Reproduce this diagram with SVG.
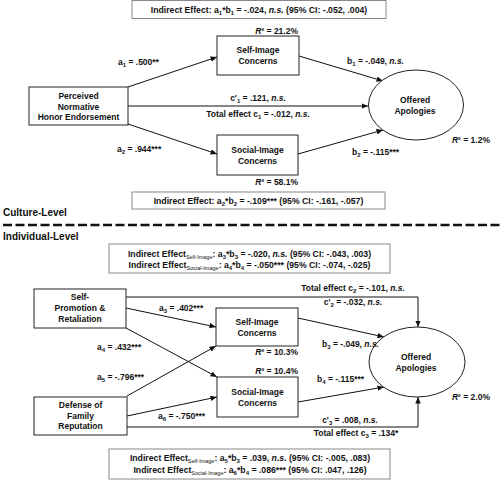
<svg xmlns="http://www.w3.org/2000/svg" width="500" height="481" viewBox="0 0 500 481">
<style>
text{font-family:"Liberation Sans",Arial,sans-serif;font-weight:bold;font-size:8.5px;fill:#111}
.c{text-anchor:middle}
.e{text-anchor:end}
.h{font-size:10px}
.ie{font-size:8.7px}
.sub{font-size:6px}
.ss{font-size:5.5px;font-weight:normal}
.i{font-style:italic}
.box{fill:#fff;stroke:#222;stroke-width:1}
.ibox{fill:#fff;stroke:#888;stroke-width:1}
.ln{fill:none;stroke:#111;stroke-width:1}
</style>
<defs>
<marker id="ah" markerUnits="userSpaceOnUse" markerWidth="7" markerHeight="6" refX="6.5" refY="2.75" orient="auto">
<path d="M0,0 L6.5,2.75 L0,5.5 z" fill="#111"/>
</marker>
</defs>

<!-- connectors -->
<g id="connectors">
<line class="ln" x1="128" y1="87" x2="217" y2="57" marker-end="url(#ah)"/>
<line class="ln" x1="128" y1="106" x2="368" y2="106" marker-end="url(#ah)"/>
<line class="ln" x1="299" y1="56" x2="383" y2="81" marker-end="url(#ah)"/>
<line class="ln" x1="128" y1="124" x2="217" y2="154" marker-end="url(#ah)"/>
<line class="ln" x1="298" y1="154" x2="383" y2="130" marker-end="url(#ah)"/>
<line x1="3" y1="225" x2="500" y2="225" stroke="#111" stroke-width="2.5" stroke-dasharray="9 3.5"/>
<polyline class="ln" points="126,297 418,297 418,327" marker-end="url(#ah)"/>
<polyline class="ln" points="127,427 418,427 418,397" marker-end="url(#ah)"/>
<line class="ln" x1="126" y1="308" x2="216" y2="327" marker-end="url(#ah)"/>
<line class="ln" x1="126" y1="328" x2="217" y2="377" marker-end="url(#ah)"/>
<line class="ln" x1="127" y1="396" x2="216" y2="346" marker-end="url(#ah)"/>
<line class="ln" x1="127" y1="416" x2="217" y2="397" marker-end="url(#ah)"/>
<line class="ln" x1="298" y1="318" x2="384" y2="337" marker-end="url(#ah)"/>
<line class="ln" x1="298" y1="402" x2="384" y2="387" marker-end="url(#ah)"/>
</g>

<!-- culture level -->
<g id="ie1">
<rect class="ibox" x="132" y="0.5" width="254" height="18"/>
<text class="c ie" x="259" y="12.5">Indirect Effect: a<tspan class="sub" dy="2">1</tspan><tspan dy="-2">*b</tspan><tspan class="sub" dy="2">1</tspan><tspan dy="-2"> = -.024, </tspan><tspan class="i">n.s.</tspan> (95% CI:  -.052, .004)</text>
</g>
<g id="honor">
<rect class="box" x="29" y="87" width="99" height="38"/>
<text class="c" x="78.5" y="99">Perceived</text>
<text class="c" x="78.5" y="109.5">Normative</text>
<text class="c" x="78.5" y="120">Honor Endorsement</text>
</g>
<g id="self1">
<rect class="box" x="217" y="36" width="82" height="39"/>
<text class="c" x="258" y="53">Self-Image</text>
<text class="c" x="258" y="64">Concerns</text>
<text class="e" x="298" y="34"><tspan class="i">R</tspan>² = 21.2%</text>
</g>
<g id="social1">
<rect class="box" x="217" y="135" width="81" height="40"/>
<text class="c" x="257.5" y="153">Social-Image</text>
<text class="c" x="257.5" y="164">Concerns</text>
<text class="e" x="298" y="185"><tspan class="i">R</tspan>² = 58.1%</text>
</g>
<g id="apol1">
<ellipse class="box" cx="416" cy="105" rx="47.5" ry="35"/>
<text class="c" x="415" y="103">Offered</text>
<text class="c" x="415" y="113.5">Apologies</text>
<text class="e" x="490" y="143"><tspan class="i">R</tspan>² = 1.2%</text>
</g>
<g id="labels1">
<text x="118" y="65">a<tspan class="sub" dy="2">1</tspan><tspan dy="-2"> = .500**</tspan></text>
<text class="c" x="258" y="101">c'<tspan class="sub" dy="2">1</tspan><tspan dy="-2"> = .121, </tspan><tspan class="i">n.s.</tspan></text>
<text class="c" x="258" y="117">Total effect c<tspan class="sub" dy="2">1</tspan><tspan dy="-2"> = -.012, </tspan><tspan class="i">n.s.</tspan></text>
<text x="347" y="64">b<tspan class="sub" dy="2">1</tspan><tspan dy="-2"> = -.049, </tspan><tspan class="i">n.s.</tspan></text>
<text x="117" y="152">a<tspan class="sub" dy="2">2</tspan><tspan dy="-2"> = .944***</tspan></text>
<text x="352" y="155">b<tspan class="sub" dy="2">2</tspan><tspan dy="-2"> = -.115***</tspan></text>
</g>
<g id="ie2">
<rect class="ibox" x="132" y="192" width="253" height="17"/>
<text class="c ie" x="258.5" y="203.5">Indirect Effect: a<tspan class="sub" dy="2">2</tspan><tspan dy="-2">*b</tspan><tspan class="sub" dy="2">2</tspan><tspan dy="-2"> = -.109*** (95% CI:  -.161, -.057)</tspan></text>
</g>
<text class="h" x="3" y="216">Culture-Level</text>
<text class="h" x="3" y="240">Individual-Level</text>

<!-- individual level -->
<g id="ie3">
<rect class="ibox" x="109" y="244" width="281" height="29"/>
<text class="c ie" x="249.5" y="256.5">Indirect Effect<tspan class="ss" dy="2">Self-Image</tspan><tspan dy="-2">:  a</tspan><tspan class="sub" dy="2">3</tspan><tspan dy="-2">*b</tspan><tspan class="sub" dy="2">3</tspan><tspan dy="-2"> = -.020, </tspan><tspan class="i">n.s.</tspan> (95% CI:  -.043, .003)</text>
<text class="c ie" x="249.5" y="268">Indirect Effect<tspan class="ss" dy="2">Social-Image</tspan><tspan dy="-2">:  a</tspan><tspan class="sub" dy="2">4</tspan><tspan dy="-2">*b</tspan><tspan class="sub" dy="2">4</tspan><tspan dy="-2"> = -.050*** (95% CI:  -.074, -.025)</tspan></text>
</g>
<g id="selfpromo">
<rect class="box" x="34" y="289" width="92" height="39"/>
<text class="c" x="80" y="300">Self-</text>
<text class="c" x="80" y="311">Promotion &amp;</text>
<text class="c" x="80" y="321.5">Retaliation</text>
</g>
<g id="defense">
<rect class="box" x="34" y="397" width="93" height="38"/>
<text class="c" x="80.5" y="408">Defense of</text>
<text class="c" x="80.5" y="418.5">Family</text>
<text class="c" x="80.5" y="429">Reputation</text>
</g>
<g id="self2">
<rect class="box" x="216" y="308" width="82" height="38"/>
<text class="c" x="257" y="325">Self-Image</text>
<text class="c" x="257" y="335.5">Concerns</text>
<text class="e" x="298" y="355"><tspan class="i">R</tspan>² = 10.3%</text>
</g>
<g id="social2">
<rect class="box" x="217" y="377" width="81" height="40"/>
<text class="c" x="257.5" y="395">Social-Image</text>
<text class="c" x="257.5" y="405.5">Concerns</text>
<text class="e" x="298" y="374"><tspan class="i">R</tspan>² = 10.4%</text>
</g>
<g id="apol2">
<ellipse class="box" cx="417" cy="362" rx="48" ry="35"/>
<text class="c" x="416" y="360">Offered</text>
<text class="c" x="416" y="370.5">Apologies</text>
<text class="e" x="490" y="400"><tspan class="i">R</tspan>² = 2.0%</text>
</g>
<g id="labels2">
<text class="c" x="353" y="291">Total effect c<tspan class="sub" dy="2">2</tspan><tspan dy="-2"> = -.101, </tspan><tspan class="i">n.s.</tspan></text>
<text class="c" x="353" y="305">c'<tspan class="sub" dy="2">2</tspan><tspan dy="-2"> = -.032, </tspan><tspan class="i">n.s.</tspan></text>
<text x="159" y="311">a<tspan class="sub" dy="2">3</tspan><tspan dy="-2"> = .402***</tspan></text>
<text x="97" y="350">a<tspan class="sub" dy="2">4</tspan><tspan dy="-2"> = .432***</tspan></text>
<text x="97" y="380">a<tspan class="sub" dy="2">5</tspan><tspan dy="-2"> = -.796***</tspan></text>
<text x="158" y="419">a<tspan class="sub" dy="2">6</tspan><tspan dy="-2"> = -.750***</tspan></text>
<text x="322" y="347">b<tspan class="sub" dy="2">3</tspan><tspan dy="-2"> = -.049, </tspan><tspan class="i">n.s.</tspan></text>
<text x="317" y="382">b<tspan class="sub" dy="2">4</tspan><tspan dy="-2"> = -.115***</tspan></text>
<text class="c" x="350" y="423">c'<tspan class="sub" dy="2">3</tspan><tspan dy="-2"> = .008, </tspan><tspan class="i">n.s.</tspan></text>
<text class="c" x="356" y="436">Total effect c<tspan class="sub" dy="2">3</tspan><tspan dy="-2"> = .134*</tspan></text>
</g>
<g id="ie4">
<rect class="ibox" x="109" y="449" width="281" height="30"/>
<text class="c ie" x="250" y="461">Indirect Effect<tspan class="ss" dy="2">Self-Image</tspan><tspan dy="-2">:  a</tspan><tspan class="sub" dy="2">5</tspan><tspan dy="-2">*b</tspan><tspan class="sub" dy="2">3</tspan><tspan dy="-2"> = .039, </tspan><tspan class="i">n.s.</tspan> (95% CI:  -.005, .083)</text>
<text class="c ie" x="250" y="472.5">Indirect Effect<tspan class="ss" dy="2">Social-Image</tspan><tspan dy="-2">:  a</tspan><tspan class="sub" dy="2">6</tspan><tspan dy="-2">*b</tspan><tspan class="sub" dy="2">4</tspan><tspan dy="-2"> = .086*** (95% CI: .047, .126)</tspan></text>
</g>
</svg>
